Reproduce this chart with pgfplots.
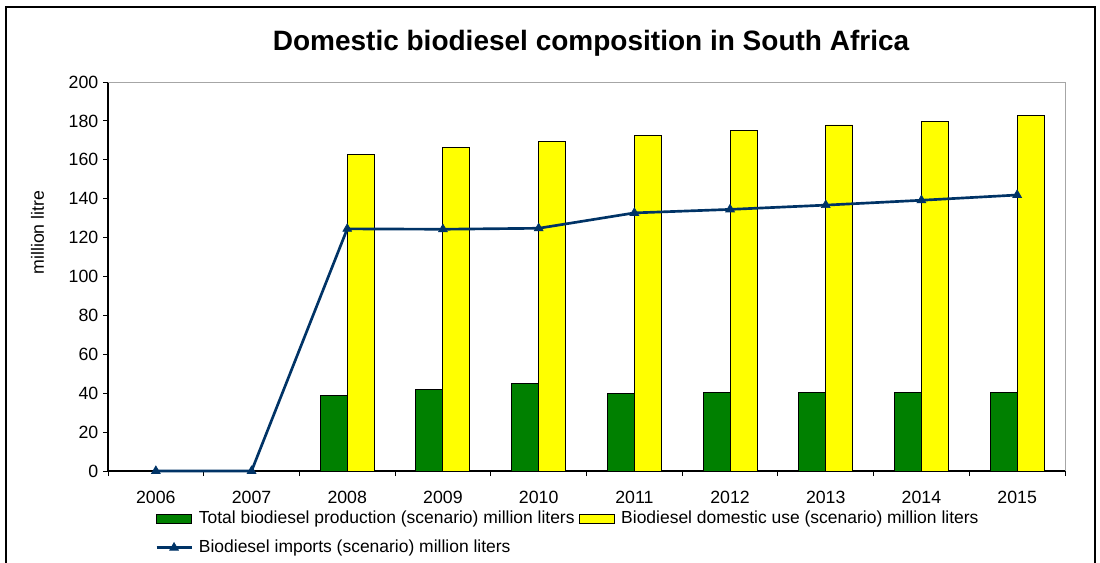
\documentclass[border=0pt]{standalone}
\usepackage{pgfplots}
\pgfplotsset{compat=1.18}
\usepackage{fontspec}
\setmainfont{Liberation Sans}
\definecolor{bargreen}{RGB}{0,128,0}
\definecolor{baryellow}{RGB}{255,255,0}
\definecolor{navyline}{RGB}{0,51,102}
\begin{document}
\begin{tikzpicture}
\path[use as bounding box] (0,0) rectangle (825pt,421.5pt);
\draw[line width=1pt] (4.5pt,-5pt) -- (4.5pt,416.25pt) -- (821.25pt,416.25pt) -- (821.25pt,-5pt);
\node[font=\fontsize{21}{25}\selectfont\bfseries, anchor=base, inner sep=0pt] at (443.25pt,383.25pt) {Domestic biodiesel composition in South Africa};
\begin{axis}[
  at={(81pt,68.25pt)}, anchor=south west,
  scale only axis, width=717.75pt, height=291.75pt,
  xmin=-0.5, xmax=9.5, ymin=0, ymax=200,
  ytick={0,20,...,200},
  xtick={-0.5,0.5,...,9.5},
  xticklabels={2006,2007,2008,2009,2010,2011,2012,2013,2014,2015},
  x tick label as interval,
  tick align=outside, major tick length=3.75pt,
  xtick pos=bottom, ytick pos=left,
  axis lines*=left, axis line style={-, black, line width=0.9pt},
  tick style={black, line width=0.75pt},
  tick label style={font=\fontsize{13.3}{15}\selectfont},
  xticklabel style={yshift=-8pt},
  /pgf/number format/assume math mode=true,
  ylabel={million litre},
  ylabel style={at={(axis description cs:-0.0737,0.613)}, anchor=center, font=\fontsize{13.3}{15}\selectfont},
  clip=false,
  legend columns=2,
  legend cell align=left,
  legend style={at={(axis description cs:0.0491,-0.1008)}, anchor=north west, draw=none, fill=none,
    font=\fontsize{13.1}{15}\selectfont, inner sep=0pt, row sep=9pt,
    nodes={inner sep=0pt, text height=9.6pt, text depth=3pt},
    /tikz/every odd column/.append style={column sep=4.5pt},
    /tikz/every even column/.append style={column sep=3.5pt}},
  after end axis/.code={\draw[gray!70, line width=0.75pt] (rel axis cs:0,1) -- (rel axis cs:1,1) -- (rel axis cs:1,0);},
]
\addplot[ybar, bar width=20.25pt, bar shift=-10.125pt, fill=bargreen, draw=black, line width=0.7pt,
  legend image code/.code={\draw[fill=bargreen, draw=black, line width=0.7pt] (0pt,-3.5pt) rectangle (26.25pt,3.5pt);}]
  coordinates {(2,38.8) (3,42.0) (4,44.8) (5,40.0) (6,40.5) (7,40.5) (8,40.5) (9,40.5)};
\addlegendentry{Total biodiesel production (scenario) million liters}
\addplot[ybar, bar width=20.25pt, bar shift=10.125pt, fill=baryellow, draw=black, line width=0.7pt,
  legend image code/.code={\draw[fill=baryellow, draw=black, line width=0.7pt] (0pt,-3.5pt) rectangle (26.25pt,3.5pt);}]
  coordinates {(2,162.9) (3,166.2) (4,169.6) (5,172.5) (6,175.0) (7,177.9) (8,179.8) (9,182.7)};
\addlegendentry{Biodiesel domestic use (scenario) million liters}
\addplot[navyline, line width=2pt, mark=triangle*, mark size=3.8pt, mark options={solid, line width=0.5pt},
  legend image code/.code={\draw[navyline, line width=2pt] (0pt,0pt) -- (26.25pt,0pt); \draw[navyline, line width=0.5pt, fill=navyline, mark=triangle*, mark size=3.8pt] plot coordinates {(13.1pt,0pt)};}]
  coordinates {(0,0) (1,0) (2,124.5) (3,124.3) (4,124.8) (5,132.7) (6,134.5) (7,136.7) (8,139.2) (9,141.9)};
\addlegendentry{Biodiesel imports (scenario) million liters}
\end{axis}
\end{tikzpicture}
\end{document}
